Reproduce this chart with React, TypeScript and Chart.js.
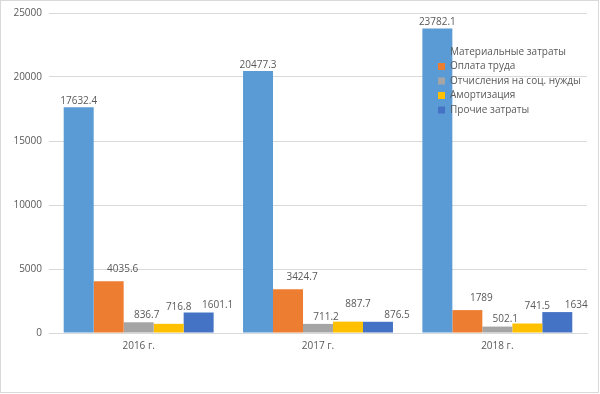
import React, { useEffect, useRef } from "react";
import { Chart, registerables } from "chart.js";

Chart.register(...registerables);

const categories = ["2016 г.", "2017 г.", "2018 г."];
const seriesNames = [
  "Материальные затраты",
  "Оплата труда",
  "Отчисления на соц. нужды",
  "Амортизация",
  "Прочие затраты",
];
const materials = [17632.4, 20477.3, 23782.1];
const labor = [4035.6, 3424.7, 1789];
const social = [836.7, 711.2, 502.1];
const depreciation = [716.8, 887.7, 741.5];
const other = [1601.1, 876.5, 1634];
const colors = ["#5B9BD5", "#ED7D31", "#A5A5A5", "#FFC000", "#4472C4"];
const yTicks = [0, 5000, 10000, 15000, 20000, 25000];

const FONT = "'Open Sans', 'Noto Sans', sans-serif";
const TEXT = "#595959";

const bgPlugin = {
  id: "bg",
  beforeDraw(chart: any) {
    const c = chart.ctx;
    c.save();
    c.fillStyle = "#fff";
    c.fillRect(0, 0, chart.width, chart.height);
    c.strokeStyle = "#D9D9D9";
    c.lineWidth = 1;
    c.strokeRect(0.5, 0.5, chart.width - 2, chart.height - 2);
    c.restore();
  },
};

const labelDx = [0, 14, 8, 10, 19];
const labelGap = [1, 7, 2, 12, 2];
const labelsPlugin = {
  id: "vals",
  afterDatasetsDraw(chart: any) {
    const c = chart.ctx;
    c.save();
    c.font = `10px ${FONT}`;
    c.fillStyle = TEXT;
    c.textAlign = "center";
    c.textBaseline = "bottom";
    chart.data.datasets.forEach((ds: any, i: number) => {
      const meta = chart.getDatasetMeta(i);
      meta.data.forEach((bar: any, j: number) => {
        c.fillText(String(ds.data[j]), bar.x + labelDx[i], bar.y - labelGap[i]);
      });
    });
    c.restore();
  },
};

const legendPlugin = {
  id: "customLegend",
  afterDraw(chart: any) {
    const c = chart.ctx;
    c.save();
    c.font = `10px ${FONT}`;
    c.textBaseline = "middle";
    c.textAlign = "left";
    const x = 438;
    const y0 = 52;
    const step = 14.5;
    chart.data.datasets.forEach((ds: any, i: number) => {
      const y = y0 + i * step;
      c.fillStyle = ds.backgroundColor;
      c.fillRect(x, y - 3.5, 7, 7);
      c.fillStyle = TEXT;
      c.fillText(ds.label, x + 12, y);
    });
    c.restore();
  },
};

export default function App() {
  const ref = useRef<HTMLCanvasElement>(null);
  useEffect(() => {
    document.body.style.margin = "0";
    const seriesData = [materials, labor, social, depreciation, other];
    const chart = new Chart(ref.current!, {
      type: "bar",
      data: {
        labels: categories,
        datasets: seriesData.map((d, i) => ({
          label: seriesNames[i],
          data: d,
          backgroundColor: colors[i],
          borderWidth: 0,
          categoryPercentage: 0.836,
          barPercentage: 1,
        })),
      },
      options: {
        responsive: false,
        animation: false,
        layout: { padding: { left: 0, right: 13, top: 13, bottom: 0 } },
        plugins: {
          legend: { display: false },
          tooltip: { enabled: false },
        },
        scales: {
          x: {
            grid: { display: false, drawTicks: false },
            border: { display: true, color: "#D9D9D9" },
            ticks: { color: TEXT, font: { family: FONT, size: 10 }, padding: 7 },
            afterFit(s: any) {
              s.height = 61;
            },
          },
          y: {
            min: 0,
            max: 25000,
            afterBuildTicks(s: any) {
              s.ticks = yTicks.map((v) => ({ value: v }));
            },
            grid: { color: "#D9D9D9", drawTicks: false },
            border: { display: false },
            ticks: {
              color: TEXT,
              font: { family: FONT, size: 10 },
              padding: 7,
              callback: (v: any) => String(v),
            },
            afterFit(s: any) {
              s.width = 49;
            },
          },
        },
      },
      plugins: [bgPlugin, labelsPlugin, legendPlugin],
    });
    return () => chart.destroy();
  }, []);
  return <canvas ref={ref} width={600} height={394} style={{ display: "block" }} />;
}
